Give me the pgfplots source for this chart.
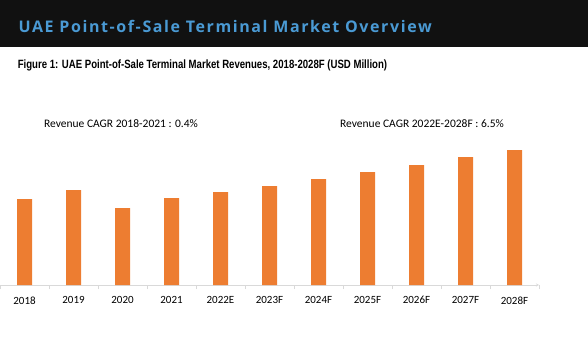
\documentclass[border=0pt]{standalone}
\usepackage{fontspec}
\setmainfont{Carlito}
\newfontfamily\titlefont[LetterSpace=10]{Open Sans}
\newfontfamily\subfont{Liberation Sans}
\usepackage{pgfplots}
\pgfplotsset{compat=1.18}
\definecolor{barorange}{HTML}{ED7D31}
\definecolor{titleblue}{HTML}{4A9AD4}
\definecolor{hdr}{HTML}{111111}
\definecolor{axgray}{HTML}{D9D9D9}
\begin{document}
\begin{tikzpicture}[x=1pt,y=1pt]
\path[use as bounding box] (0,0) rectangle (588,362);
\fill[hdr] (0,315) rectangle (588,362);
\node[anchor=west,text=titleblue,font=\titlefont\bfseries\fontsize{16}{18}\selectfont] at (15,336) {UAE Point-of-Sale Terminal Market Overview};
\node[anchor=west,font=\subfont\bfseries\fontsize{12}{14}\selectfont,xscale=0.8] at (15,297) {Figure 1: UAE Point-of-Sale Terminal Market Revenues, 2018-2028F (USD Million)};
\begin{axis}[
  at={(0,77)}, anchor=south west,
  scale only axis, width=539pt, height=185pt,
  xmin=-0.5, xmax=10.5, ymin=0, ymax=185,
  axis line style={axgray},
  axis x line=bottom, axis y line=none,
  xtick={0,...,10},
  xticklabels={2018,2019,2020,2021,2022E,2023F,2024F,2025F,2026F,2027F,2028F},
  extra x ticks={-0.5,0.5,1.5,2.5,3.5,4.5,5.5,6.5,7.5,8.5,9.5,10.5},
  extra x tick labels={},
  extra x tick style={major tick length=4pt, tick style={axgray}, tick pos=bottom},
  major tick length=0pt,
  xticklabel style={font=\fontsize{11}{13}\selectfont, yshift=-8pt},
  ybar, bar width=15pt,
  clip=false,
]
\addplot[fill=barorange, draw=none] coordinates {
 (0,86) (1,95) (2,77) (3,87) (4,93) (5,99) (6,106) (7,113) (8,120) (9,128) (10,135)};
\end{axis}
\node[font=\fontsize{11.5}{13}\selectfont] at (121,238) {Revenue CAGR 2018-2021 : 0.4\%};
\node[font=\fontsize{11.5}{13}\selectfont] at (422,238) {Revenue CAGR 2022E-2028F : 6.5\%};
\end{tikzpicture}
\end{document}
